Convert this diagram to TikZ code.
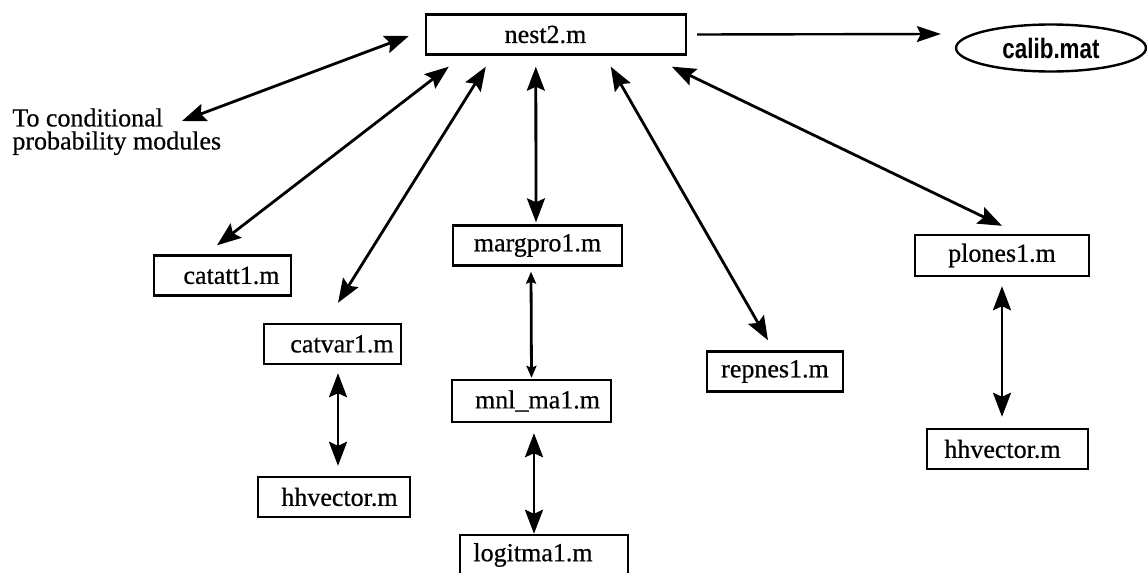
\documentclass[tikz,border=0pt]{standalone}
\usepackage{fontspec}
\setmainfont{Liberation Serif}[FakeBold=0.6]
\newfontfamily\calibfont[FakeStretch=0.8]{Liberation Sans}
\usetikzlibrary{shapes,arrows.meta}

\begin{document}
\begin{tikzpicture}[x=0.5pt,y=-0.5pt,
  mfile/.style={draw,line width=1.2pt,minimum height=20pt,inner sep=0pt,
    font=\fontsize{13}{15}\selectfont},
  link/.style={line width=1.4pt,{Stealth[length=12pt,width=9pt,inset=2pt]}-{Stealth[length=12pt,width=9pt,inset=2pt]}},
  tolink/.style={line width=1.2pt,-{Stealth[length=12pt,width=8pt,inset=2pt]}},
  smalllink/.style={line width=1.4pt,{Stealth[length=6pt,width=5pt,inset=1pt]}-{Stealth[length=6pt,width=5pt,inset=1pt]}}]
\useasboundingbox (0,0) rectangle (1147,573);

\node[mfile,minimum width=130pt] (nest) at (556,34.5) {nest2.m\hspace*{10.5pt}};
\node[draw,ellipse,line width=1.2pt,minimum width=95pt,minimum height=23.5pt,inner sep=0pt,
  font=\calibfont\bfseries\fontsize{14}{16}\selectfont] (calib) at (1051,48) {calib.mat};
\node[anchor=north west,align=left,inner sep=0pt,font=\fontsize{13}{11.5}\selectfont]
  (tocond) at (12,108) {To conditional\\probability modules};

\node[mfile,minimum width=68.5pt] (catatt) at (222.5,275.5) {\hspace*{9pt}catatt1.m};
\node[mfile,minimum width=68.5pt] (catvar) at (332.5,344) {\hspace*{9.5pt}catvar1.m};
\node[mfile,minimum width=76pt] (hhleft) at (334,497) {\hspace*{5.5pt}hhvector.m};
\node[mfile,minimum width=84.5pt] (margpro) at (537.5,245.5) {margpro1.m};
\node[mfile,minimum width=79.5pt,minimum height=21pt] (mnl) at (531.5,401) {\hspace*{6pt}mnl\_ma1.m};
\node[mfile,minimum width=84pt] (logit) at (544,555) {logitma1.m\hspace*{11pt}};
\node[mfile,minimum width=68pt] (repnes) at (775,371.5) {repnes1.m};
\node[mfile,minimum width=87pt,minimum height=20.5pt] (plones) at (1002,255.5) {plones1.m};
\node[mfile,minimum width=80.5pt] (hhright) at (1007.5,449) {hhvector.m\hspace*{5pt}};

\draw[tolink] ([shift={(10,0)}]nest.east) -- ([shift={(-14,-14)}]calib.west);
\draw[link] ([shift={(-16,1.5)}]nest.west) -- ([shift={(170,13)}]tocond.north west);
\draw[link] ([shift={(24,11)}]nest.south west) -- ([shift={(-5.5,-9)}]catatt.north);
\draw[link] ([shift={(61,11)}]nest.south west) -- ([shift={(5.5,-20)}]catvar.north);
\draw[link] ([shift={(111,11)}]nest.south west) -- ([shift={(-1.5,-2)}]margpro.north);
\draw[link] ([shift={(186,11)}]nest.south west) -- ([shift={(-7,-10)}]repnes.north);
\draw[link] ([shift={(247,11)}]nest.south west) -- ([shift={(0,-8)}]plones.north);

\draw[smalllink] ([shift={(-6.5,5)}]margpro.south) -- ([shift={(0,-1)}]mnl.north);
\draw[link] ([shift={(2.5,10)}]mnl.south) -- ([shift={(-10,0)}]logit.north);
\draw[link] ([shift={(5.5,8)}]catvar.south) -- ([shift={(4,-10)}]hhleft.north);
\draw[link] ([shift={(0,9)}]plones.south) -- ([shift={(-5.5,-11)}]hhright.north);
\end{tikzpicture}
\end{document}
